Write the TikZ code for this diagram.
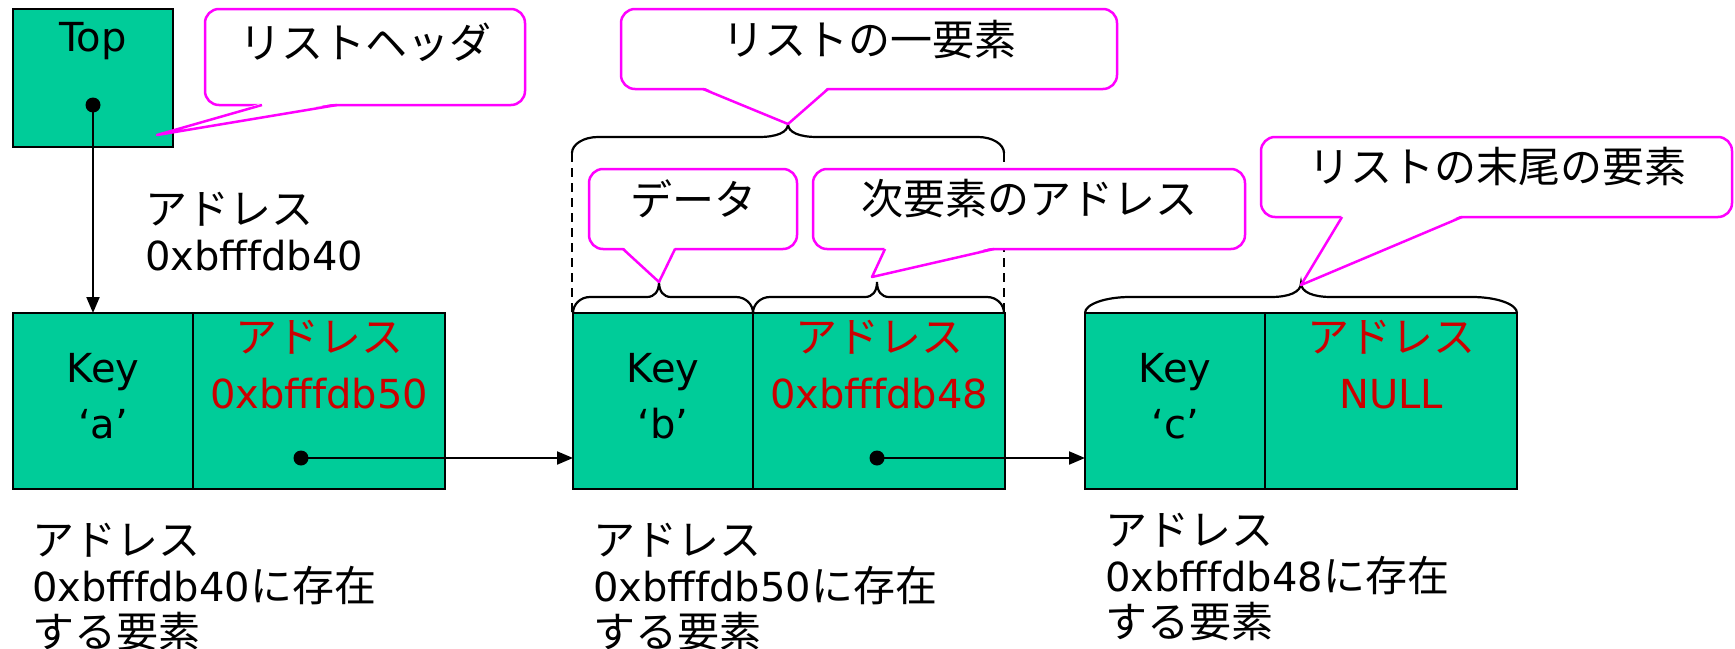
\documentclass[tikz,border=0pt]{standalone}
\usepackage{fontspec}
\setmainfont{DejaVu Sans}
\newfontfamily\jpf{Noto Sans CJK JP}
\usetikzlibrary{arrows.meta}
\definecolor{cellgreen}{RGB}{0,204,153}
\definecolor{addrred}{RGB}{204,0,0}
\definecolor{callmag}{RGB}{255,0,255}
\newcommand\J[1]{{\fontsize{42}{46}\selectfont\jpf #1}}
% callout: x1 y1 x2 y2 tailleft tailright tipx tipy
\newcommand\mycallout[8]{%
  \draw[callmag, line width=2.5pt, fill=white, rounded corners=14pt] (#1,#2) rectangle (#3,#4);
  \fill[white] (#5,{#4-2}) -- (#7,#8) -- (#6,{#4-2}) -- cycle;
  \draw[callmag, line width=2.5pt, line join=round] (#5,#4) -- (#7,#8) -- (#6,#4);}
% brace: x1 x2 xm yb yl yt r rt
\newcommand\mybrace[8]{%
  \draw[black, line width=2.2pt]
    (#1,#4) .. controls (#1,{#5+0.45*(#4-#5)}) and ({#1+0.45*#7},#5) .. ({#1+#7},#5)
    -- ({#3-#8},#5) .. controls ({#3-0.4*#8},#5) and (#3,{#5-0.35*(#5-#6)}) .. (#3,#6)
    .. controls (#3,{#5-0.35*(#5-#6)}) and ({#3+0.4*#8},#5) .. ({#3+#8},#5)
    -- ({#2-#7},#5) .. controls ({#2-0.45*#7},#5) and (#2,{#5+0.45*(#4-#5)}) .. (#2,#4);}
\tikzset{
  x=1pt, y=-1pt,
  cell/.style={draw=black, line width=2pt, fill=cellgreen, inner sep=0pt, outer sep=0pt, anchor=north west},
  dotnode/.style={circle, fill=black, minimum size=15pt, inner sep=0pt},
  arr/.style={line width=2pt, -{Triangle[length=16pt,width=13pt]}},
  txt/.style={inner sep=0pt, align=center, font=\fontsize{40}{56}\selectfont},
  redtxt/.style={txt, text=addrred},
  jtxt/.style={inner sep=0pt, font=\fontsize{42}{46}\selectfont\jpf},
  captxt/.style={inner sep=0pt, anchor=west, align=left, font=\fontsize{40}{46}\selectfont},
  dashln/.style={line width=2pt, dash pattern=on 9pt off 6pt},
}
\begin{document}
\begin{tikzpicture}
\useasboundingbox (0,0) rectangle (1735,648);
% header box
\node[cell, minimum width=160pt, minimum height=138pt] (top) at (13,9) {};
\node[txt] (toptxt) at (93,41) {Top};
\node[dotnode] (d0) at (93,105) {};
% list cells
\node[cell, minimum width=180pt, minimum height=176pt] (k1) at (13,313) {};
\node[cell, minimum width=252pt, minimum height=176pt] (p1) at (193,313) {};
\node[cell, minimum width=180pt, minimum height=176pt] (k2) at (573,313) {};
\node[cell, minimum width=252pt, minimum height=176pt] (p2) at (753,313) {};
\node[cell, minimum width=180pt, minimum height=176pt] (k3) at (1085,313) {};
\node[cell, minimum width=252pt, minimum height=176pt] (p3) at (1265,313) {};
% cell texts
\node[txt] (key1) at (103,396) {Key\\‘a’};
\node[txt] (key2) at (663,396) {Key\\‘b’};
\node[txt] (key3) at (1175,396) {Key\\‘c’};
\node[redtxt] (adr1) at (319,365) {\J{アドレス}\\0xbfffdb50};
\node[redtxt] (adr2) at (879,365) {\J{アドレス}\\0xbfffdb48};
\node[redtxt] (adr3) at (1391,365) {\J{アドレス}\\NULL};
% pointers
\node[dotnode] (d1) at (301,458) {};
\node[dotnode] (d2) at (877,458) {};
\draw[arr] (d0.center) -- (d0 |- k1.north);
\draw[arr] (d1.center) -- (d1 -| k2.west);
\draw[arr] (d2.center) -- (d2 -| k3.west);
% labels
\node[captxt] (lbl) at (145,232) {\J{アドレス}\\0xbfffdb40};
\node[captxt] (c1) at (32,587) {\J{アドレス}\\0xbfffdb40\J{に存在}\\\J{する要素}};
\node[captxt] (c2) at (593,587) {\J{アドレス}\\0xbfffdb50\J{に存在}\\\J{する要素}};
\node[captxt] (c3) at (1105,577) {\J{アドレス}\\0xbfffdb48\J{に存在}\\\J{する要素}};
% braces
\coordinate (bl) at (572,153);
\coordinate (br) at (1004,153);
\draw[dashln] (bl) -- (bl |- k2.north);
\draw[dashln] (br) -- (br |- k2.north);
\mybrace{572}{1004}{788}{153}{137}{124}{26}{29}
\mybrace{573}{753}{659}{313}{297}{282}{17}{12}
\mybrace{753}{1004}{877}{313}{297}{282}{17}{12}
\mybrace{1085}{1517}{1301}{313}{297}{283}{45}{30}
% callouts
\mycallout{205}{9}{525}{105}{262}{337}{157}{135}
\node[jtxt] (t1) at (365,42) {リストヘッダ};
\mycallout{621}{9}{1117}{89}{703}{828}{788}{124}
\node[jtxt] (t2) at (869,40) {リストの一要素};
\mycallout{589}{169}{797}{249}{623}{675}{659}{282}
\node[jtxt] (t3) at (693,199) {データ};
\mycallout{813}{169}{1245}{249}{885}{994}{872}{277}
\node[jtxt] (t4) at (1029,199) {次要素のアドレス};
\mycallout{1261}{137}{1732}{217}{1342}{1462}{1301}{285}
\node[jtxt] (t5) at (1497,167) {リストの末尾の要素};
\end{tikzpicture}
\end{document}
